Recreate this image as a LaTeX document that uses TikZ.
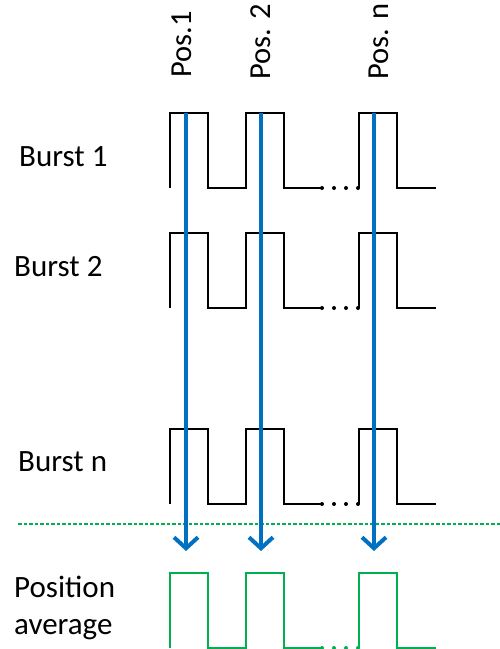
\documentclass[tikz,border=0pt]{standalone}
\usepackage{fontspec}
\setmainfont{Carlito}
\usetikzlibrary{arrows.meta}

\definecolor{arrowblue}{HTML}{0070C0}
\definecolor{avggreen}{HTML}{00B050}

\begin{document}
\begin{tikzpicture}
    [
        x=1pt, y=-1pt,
        label/.style={font=\fontsize{31}{37}\selectfont, align=left, inner sep=0pt},
        poslabel/.style={font=\fontsize{30.5}{37}\selectfont, rotate=90, anchor=west, inner sep=0pt},
        pulse/.style={draw=black, line width=2pt, line join=miter},
        avgpulse/.style={draw=avggreen, line width=2pt, line join=miter},
        gap/.style={fill=black, circle, inner sep=0pt, minimum size=4pt},
        avggap/.style={fill=avggreen, circle, inner sep=0pt, minimum size=4pt},
        sample/.style={draw=arrowblue, line width=4pt, -{Straight Barb[length=11pt, width=24pt]}},
        divider/.style={draw=avggreen, line width=2pt, dash pattern=on 3.5pt off 2pt}
    ]
        \useasboundingbox (0,0) rectangle (500,649);
        % =========================================================================
        % NODES
        % =========================================================================
        % --- Labels ---
        \node [label, anchor=west] (burst1) at (19,157) {Burst 1};
        \node [label, anchor=west] (burst2) at (14,267) {Burst 2};
        \node [label, anchor=west] (burstn) at (18,462) {Burst n};
        \node [label, anchor=west] (average) at (14,608) {Position\\average};
        % --- Positions ---
        \coordinate (top1) at (186,113);
        \coordinate (top2) at (261,113);
        \coordinate (topn) at (374,113);
        \coordinate (tip1) at (186,551);
        \coordinate (tip2) at (261,551);
        \coordinate (tipn) at (374,551);
        \node [poslabel] (pos1) at (182,78) {Pos.1};
        \node [poslabel] (pos2) at (261,80) {Pos. 2};
        \node [poslabel] (posn) at (379,80) {Pos. n};
        % --- Divider ---
        \coordinate (divleft) at (18,524);
        \coordinate (divright) at (500,524);

        % =========================================================================
        % PATHS
        % =========================================================================
        % --- Burst 1 ---
        \draw [pulse] (170,188) -- (170,113) -- (208,113) -- (208,188) -- (246,188) -- (246,113)
            -- (284,113) -- (284,188) -- (322,188);
        \draw [pulse] (359,188) -- (359,113) -- (397,113) -- (397,188) -- (436,188);
        \node [gap] (dot1a) at (322,188) {};
        \node [gap] (dot1b) at (334,188) {};
        \node [gap] (dot1c) at (346,188) {};
        \node [gap] (dot1d) at (358,188) {};
        % --- Burst 2 ---
        \draw [pulse] (170,308) -- (170,233) -- (208,233) -- (208,308) -- (246,308) -- (246,233)
            -- (284,233) -- (284,308) -- (322,308);
        \draw [pulse] (359,308) -- (359,233) -- (397,233) -- (397,308) -- (436,308);
        \node [gap] (dot2a) at (322,308) {};
        \node [gap] (dot2b) at (334,308) {};
        \node [gap] (dot2c) at (346,308) {};
        \node [gap] (dot2d) at (358,308) {};
        % --- Burst n ---
        \draw [pulse] (170,504) -- (170,429) -- (208,429) -- (208,504) -- (246,504) -- (246,429)
            -- (284,429) -- (284,504) -- (322,504);
        \draw [pulse] (359,504) -- (359,429) -- (397,429) -- (397,504) -- (436,504);
        \node [gap] (dotna) at (322,504) {};
        \node [gap] (dotnb) at (334,504) {};
        \node [gap] (dotnc) at (346,504) {};
        \node [gap] (dotnd) at (358,504) {};
        % --- Average ---
        \draw [avgpulse] (170,648) -- (170,573) -- (208,573) -- (208,648) -- (246,648) -- (246,573)
            -- (284,573) -- (284,648) -- (322,648);
        \draw [avgpulse] (359,648) -- (359,573) -- (397,573) -- (397,648) -- (436,648);
        \node [avggap] (dotaa) at (322,648) {};
        \node [avggap] (dotab) at (334,648) {};
        \node [avggap] (dotac) at (346,648) {};
        \node [avggap] (dotad) at (358,648) {};
        % --- Divider ---
        \draw [divider] (divleft) -- (divright);
        % --- Sampling arrows ---
        \draw [sample] (top1) -- (tip1);
        \draw [sample] (top2) -- (tip2);
        \draw [sample] (topn) -- (tipn);
    \end{tikzpicture}
\end{document}
